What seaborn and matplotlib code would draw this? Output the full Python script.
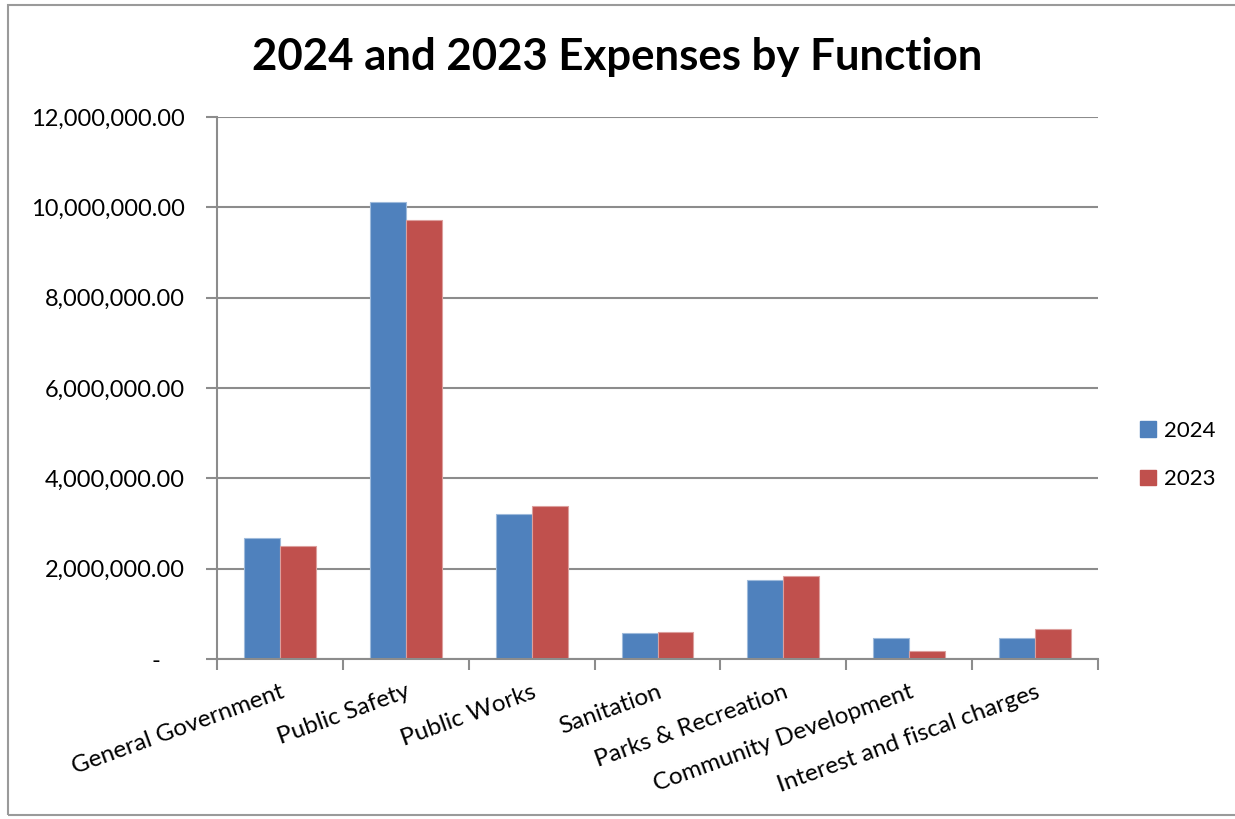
import numpy as np
import pandas as pd
import matplotlib
matplotlib.use("Agg")
import matplotlib.pyplot as plt
import matplotlib.colors as mcolors
from matplotlib.patches import Rectangle
from matplotlib.ticker import FuncFormatter, FixedLocator
import seaborn as sns

# Data
categories = [
    "General Government",
    "Public Safety",
    "Public Works",
    "Sanitation",
    "Parks & Recreation",
    "Community Development",
    "Interest and fiscal charges",
]
expenses_2024 = [2690000, 10120000, 3200000, 570000, 1740000, 460000, 470000]
expenses_2023 = [2500000, 9730000, 3390000, 600000, 1840000, 170000, 670000]
years = ["2024", "2023"]
year_colors = ["#4F81BD", "#C0504D"]
y_ticks = [0, 2000000, 4000000, 6000000, 8000000, 10000000, 12000000]

df = pd.DataFrame({
    "Function": categories * 2,
    "Expense": expenses_2024 + expenses_2023,
    "Year": [years[0]] * len(categories) + [years[1]] * len(categories),
})

sns.set_theme(style="white")
plt.rcParams["font.family"] = ["Lato", "DejaVu Sans"]
plt.rcParams["text.color"] = "black"
plt.rcParams["xtick.labelcolor"] = "black"
plt.rcParams["ytick.labelcolor"] = "black"

grid_gray = "#8C8C8C"

fig = plt.figure(figsize=(12.35, 8.19), dpi=100)
ax = fig.add_axes([217 / 1235, 1 - 659 / 819, (1098 - 217) / 1235, (659 - 117) / 819])

sns.barplot(
    data=df, x="Function", y="Expense", hue="Year",
    palette=year_colors, width=0.57, ax=ax, legend=False, saturation=1,
)

# light outlines like the Excel bars
for container, col in zip(ax.containers, year_colors):
    rgb = np.array(mcolors.to_rgb(col))
    light = rgb + (1 - rgb) * 0.45
    for bar in container:
        bar.set_edgecolor(light)
        bar.set_linewidth(0.8)

ax.set_ylim(0, 12000000)
ax.set_xlim(-0.5, len(categories) - 0.5)
ax.yaxis.set_major_locator(FixedLocator(y_ticks))
ax.yaxis.set_major_formatter(
    FuncFormatter(lambda v, p: "-    " if v == 0 else f"{v:,.2f}")
)
ax.yaxis.grid(True, color=grid_gray, linewidth=1.5)
ax.set_axisbelow(True)

for side in ["top", "right"]:
    ax.spines[side].set_visible(False)
for side in ["left", "bottom"]:
    ax.spines[side].set_color(grid_gray)
    ax.spines[side].set_linewidth(1.5)

# category ticks sit between groups
ax.set_xticks(np.arange(len(categories)))
ax.set_xticks(np.arange(len(categories) + 1) - 0.5, minor=True)
ax.tick_params(axis="x", which="major", length=0, pad=16, labelsize=17.5, labelcolor="black")
ax.tick_params(axis="x", which="minor", length=8, width=1.5, color=grid_gray, direction="out", bottom=True)
ax.tick_params(axis="y", length=8, width=1.5, color=grid_gray, direction="out", left=True,
               pad=15, labelsize=17, labelcolor="black")
plt.setp(ax.get_xticklabels(), rotation=20, ha="right", va="top", rotation_mode="anchor")

ax.set_xlabel("")
ax.set_ylabel("")

fig.suptitle("2024 and 2023 Expenses by Function", x=0.5, y=1 - 57 / 819,
             va="center", fontsize=31.5, fontweight="bold", color="black")

handles = [Rectangle((0, 0), 1, 1, color=c) for c in year_colors]
fig.legend(handles, years, loc="center left", bbox_to_anchor=(1120 / 1235, 1 - 455 / 819),
           frameon=False, fontsize=16, handlelength=0.7, handleheight=0.7,
           handletextpad=0.4, labelspacing=1.3)

# outer chart border
fig.patches.append(Rectangle((8 / 1235, 1 - 815 / 819), 1.2, (815 - 5) / 819,
                             transform=fig.transFigure, fill=False,
                             edgecolor="#9A9A9A", linewidth=1.5))

fig.savefig("out.png", dpi=100)
